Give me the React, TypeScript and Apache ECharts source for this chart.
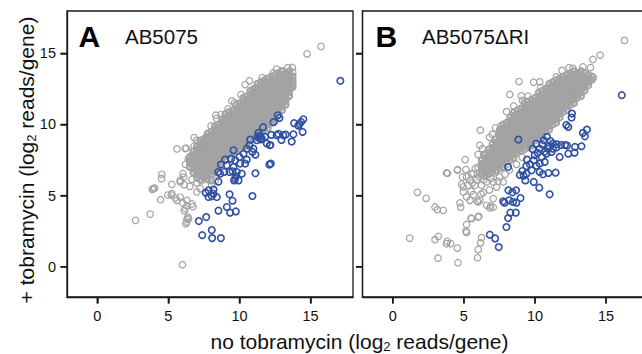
import React, { useEffect, useRef } from "react";
import * as echarts from "echarts";

// ---------- axis range, tick labels / text ----------
const AX_MIN = -2.13;
const AX_MAX = 17.98;
const xTicks = [0, 5, 10, 15];
const yTicks = [0, 5, 10, 15];
const panelLetters = ["A", "B"];
const panelNames = ["AB5075", "AB5075\u0394RI"];

// ---------- Panel A (AB5075) ----------
// dense core of the cloud: each row = [x, y1, y2, ...]
const coreA: number[][] = [
  [6.5, 7.0, 7.25, 7.5, 7.75],
  [6.75, 6.63, 6.88, 7.13, 7.38, 7.63, 7.88, 8.13],
  [7.0, 6.25, 6.5, 6.75, 7, 7.25, 7.5, 7.75, 8, 8.25, 8.5],
  [7.25, 6.13, 6.38, 6.63, 6.88, 7.13, 7.38, 7.63, 7.88, 8.13, 8.38, 8.63, 8.88],
  [7.5, 6.25, 6.5, 6.75, 7, 7.25, 7.5, 7.75, 8, 8.25, 8.5, 8.75, 9],
  [7.75, 6.13, 6.38, 6.63, 6.88, 7.13, 7.38, 7.63, 7.88, 8.13, 8.38, 8.63, 8.88, 9.13, 9.38],
  [8.0, 6.5, 6.75, 7, 7.25, 7.5, 7.75, 8, 8.25, 8.5, 8.75, 9, 9.25, 9.5],
  [8.25, 6.63, 6.88, 7.13, 7.38, 7.63, 7.88, 8.13, 8.38, 8.63, 8.88, 9.13, 9.38, 9.63, 9.88],
  [8.5, 7, 7.25, 7.5, 7.75, 8, 8.25, 8.5, 8.75, 9, 9.25, 9.5, 9.75, 10],
  [8.75, 7.38, 7.63, 7.88, 8.13, 8.38, 8.63, 8.88, 9.13, 9.38, 9.63, 9.88, 10.13, 10.38],
  [9.0, 7.5, 7.75, 8, 8.25, 8.5, 8.75, 9, 9.25, 9.5, 9.75, 10, 10.25, 10.5, 10.75],
  [9.25, 7.88, 8.13, 8.38, 8.63, 8.88, 9.13, 9.38, 9.63, 9.88, 10.13, 10.38, 10.63, 10.88],
  [9.5, 8, 8.25, 8.5, 8.75, 9, 9.25, 9.5, 9.75, 10, 10.25, 10.5, 10.75, 11],
  [9.75, 8.13, 8.38, 8.63, 8.88, 9.13, 9.38, 9.63, 9.88, 10.13, 10.38, 10.63, 10.88, 11.13, 11.38],
  [10.0, 8.25, 8.5, 8.75, 9, 9.25, 9.5, 9.75, 10, 10.25, 10.5, 10.75, 11, 11.25, 11.5],
  [10.25, 8.38, 8.63, 8.88, 9.13, 9.38, 9.63, 9.88, 10.13, 10.38, 10.63, 10.88, 11.13, 11.38, 11.63, 11.88],
  [10.5, 8.5, 8.75, 9, 9.25, 9.5, 9.75, 10, 10.25, 10.5, 10.75, 11, 11.25, 11.5, 11.75, 12],
  [10.75, 8.88, 9.13, 9.38, 9.63, 9.88, 10.13, 10.38, 10.63, 10.88, 11.13, 11.38, 11.63, 11.88, 12.13, 12.38],
  [11.0, 9, 9.25, 9.5, 9.75, 10, 10.25, 10.5, 10.75, 11, 11.25, 11.5, 11.75, 12, 12.25, 12.5],
  [11.25, 9.13, 9.38, 9.63, 9.88, 10.13, 10.38, 10.63, 10.88, 11.13, 11.38, 11.63, 11.88, 12.13, 12.38, 12.63, 12.88],
  [11.5, 9.5, 9.75, 10, 10.25, 10.5, 10.75, 11, 11.25, 11.5, 11.75, 12, 12.25, 12.5, 12.75, 13],
  [11.75, 9.63, 9.88, 10.13, 10.38, 10.63, 10.88, 11.13, 11.38, 11.63, 11.88, 12.13, 12.38, 12.63, 12.88, 13.13],
  [12.0, 9.75, 10, 10.25, 10.5, 10.75, 11, 11.25, 11.5, 11.75, 12, 12.25, 12.5, 12.75, 13, 13.25],
  [12.25, 10.13, 10.38, 10.63, 10.88, 11.13, 11.38, 11.63, 11.88, 12.13, 12.38, 12.63, 12.88, 13.13, 13.38],
  [12.5, 10.25, 10.5, 10.75, 11, 11.25, 11.5, 11.75, 12, 12.25, 12.5, 12.75, 13, 13.25, 13.5],
  [12.75, 10.63, 10.88, 11.13, 11.38, 11.63, 11.88, 12.13, 12.38, 12.63, 12.88, 13.13, 13.38, 13.63],
  [13.0, 11, 11.25, 11.5, 11.75, 12, 12.25, 12.5, 12.75, 13, 13.25, 13.5, 13.75],
  [13.25, 11.38, 11.63, 11.88, 12.13, 12.38, 12.63, 12.88, 13.13, 13.38, 13.63],
  [13.5, 12, 12.25, 12.5, 12.75, 13, 13.25, 13.5, 13.75],
  [13.75, 12.63, 12.88, 13.13, 13.38],
];

// scattered grey genes outside the core
const grayA: number[][] = [
  [15.73, 15.49], [14.75, 14.97], [13.72, 14.01], [13.74, 13.68], [13.7, 12.74],
  [2.69, 3.26], [3.72, 3.7], [5.99, 0.14], [4.54, 6.5], [4.52, 6.19], [4.03, 5.53],
  [3.86, 5.44], [3.95, 5.49], [4.45, 4.71], [4.96, 5.04], [5.2, 5.04], [5.24, 5.79],
  [5.6, 8.28], [6.18, 8.31], [6.25, 8.33], [6.81, 9.08], [7.0, 8.89], [6.02, 6.55],
  [5.83, 5.96], [6.11, 5.77], [5.48, 4.83], [5.83, 4.9], [6.02, 4.48], [6.11, 3.94],
  [6.3, 4.27], [6.65, 4.41], [6.72, 4.22], [6.3, 3.33], [6.37, 3.49], [6.23, 3.02],
  [6.51, 5.65], [6.65, 6.14], [7.0, 5.89], [7.33, 6.05], [7.59, 5.25], [8.05, 6.05],
  [8.03, 5.72], [6.81, 8.49], [7.19, 8.47], [8.33, 10.65], [8.38, 10.42], [7.68, 9.15],
  [9.46, 11.66], [9.65, 11.52], [10.7, 13.07], [10.4, 12.81], [10.98, 12.41],
  [11.1, 11.94], [12.38, 13.63], [11.94, 13.21], [12.97, 13.77], [5.25, 5.14],
  [5.83, 6.07], [6.07, 6.3], [5.6, 4.67], [6.3, 4.67], [6.18, 4.09], [6.42, 3.38],
  [6.3, 3.14], [6.53, 7.01], [7.0, 7.96], [7.35, 8.54], [7.0, 6.78], [7.94, 6.07],
  [8.29, 6.07], [7.24, 5.49], [7.0, 5.26], [6.4, 7.6], [6.2, 7.2], [8.0, 9.9],
  [8.7, 10.7], [9.2, 11.1], [10.1, 12.1], [11.6, 13.3], [12.6, 13.9], [13.4, 14.0],
];

// genes depleted in tobramycin (blue)
const blueA: number[][] = [
  [17.09, 13.07], [12.69, 10.65], [12.81, 10.46], [12.39, 10.16], [11.66, 9.81],
  [13.84, 10.09], [14.21, 10.04], [14.33, 10.18], [14.49, 10.37], [14.14, 9.92],
  [14.44, 9.48], [12.74, 9.34], [13.25, 9.29], [13.79, 9.31], [13.67, 8.8],
  [12.95, 8.91], [12.24, 9.27], [12.17, 8.56], [11.8, 9.13], [11.33, 9.41],
  [11.4, 9.03], [11.21, 8.89], [11.45, 9.2], [11.28, 9.15], [11.5, 8.95], [11.57, 9.01],
  [10.75, 8.94], [10.7, 8.54], [10.51, 8.3], [10.91, 8.07], [11.12, 7.88],
  [11.12, 6.57], [10.91, 4.97], [12.1, 7.18], [12.2, 7.25], [11.92, 8.66],
  [10.28, 7.95], [10.0, 7.72], [9.69, 7.48], [9.41, 7.6], [8.99, 7.53], [8.69, 7.18],
  [9.11, 7.13], [9.58, 7.01], [10.05, 7.25], [9.81, 6.66], [9.51, 6.71], [9.3, 6.66],
  [8.92, 6.66], [8.64, 6.54], [8.5, 6.66], [8.52, 5.98], [9.74, 6.36], [9.62, 6.07],
  [9.69, 6.19], [9.93, 6.07], [10.16, 6.54], [10.51, 7.53], [10.4, 7.25], [10.98, 8.3],
  [9.58, 8.19], [12.14, 8.54], [12.61, 9.25], [13.08, 9.25],
  [7.63, 5.2], [7.82, 5.37], [7.82, 4.9], [8.17, 5.42], [8.17, 5.13], [8.05, 4.95],
  [8.4, 4.9], [9.3, 5.09], [9.51, 4.64], [9.34, 3.8], [9.74, 3.89], [9.11, 4.2],
  [8.52, 3.94], [7.14, 3.21], [7.66, 3.49], [8.05, 2.58], [7.38, 2.22], [8.08, 2.01],
  [8.69, 2.01],
];

// ---------- Panel B (AB5075ΔRI) ----------
const coreB: number[][] = [
  [6.25, 6.5, 6.75, 7, 7.25, 7.5],
  [6.5, 6.38, 6.63, 6.88, 7.13, 7.38, 7.63, 7.88],
  [6.75, 6.5, 6.75, 7, 7.25, 7.5, 7.75, 8, 8.25],
  [7.0, 6.63, 6.88, 7.13, 7.38, 7.63, 7.88, 8.13, 8.38, 8.63],
  [7.25, 6.75, 7, 7.25, 7.5, 7.75, 8, 8.25, 8.5, 8.75, 9],
  [7.5, 6.88, 7.13, 7.38, 7.63, 7.88, 8.13, 8.38, 8.63, 8.88, 9.13, 9.38, 9.63],
  [7.75, 7, 7.25, 7.5, 7.75, 8, 8.25, 8.5, 8.75, 9, 9.25, 9.5, 9.75, 10],
  [8.0, 7.38, 7.63, 7.88, 8.13, 8.38, 8.63, 8.88, 9.13, 9.38, 9.63, 9.88, 10.13],
  [8.25, 7.5, 7.75, 8, 8.25, 8.5, 8.75, 9, 9.25, 9.5, 9.75, 10, 10.25, 10.5],
  [8.5, 7.63, 7.88, 8.13, 8.38, 8.63, 8.88, 9.13, 9.38, 9.63, 9.88, 10.13, 10.38, 10.63, 10.88],
  [8.75, 8, 8.25, 8.5, 8.75, 9, 9.25, 9.5, 9.75, 10, 10.25, 10.5, 10.75, 11],
  [9.0, 8.13, 8.38, 8.63, 8.88, 9.13, 9.38, 9.63, 9.88, 10.13, 10.38, 10.63, 10.88, 11.13],
  [9.25, 8.25, 8.5, 8.75, 9, 9.25, 9.5, 9.75, 10, 10.25, 10.5, 10.75, 11, 11.25, 11.5],
  [9.5, 8.38, 8.63, 8.88, 9.13, 9.38, 9.63, 9.88, 10.13, 10.38, 10.63, 10.88, 11.13, 11.38, 11.63],
  [9.75, 8.5, 8.75, 9, 9.25, 9.5, 9.75, 10, 10.25, 10.5, 10.75, 11, 11.25, 11.5, 11.75],
  [10.0, 8.88, 9.13, 9.38, 9.63, 9.88, 10.13, 10.38, 10.63, 10.88, 11.13, 11.38, 11.63, 11.88],
  [10.25, 9, 9.25, 9.5, 9.75, 10, 10.25, 10.5, 10.75, 11, 11.25, 11.5, 11.75, 12, 12.25],
  [10.5, 9.13, 9.38, 9.63, 9.88, 10.13, 10.38, 10.63, 10.88, 11.13, 11.38, 11.63, 11.88, 12.13, 12.38],
  [10.75, 9.5, 9.75, 10, 10.25, 10.5, 10.75, 11, 11.25, 11.5, 11.75, 12, 12.25, 12.5],
  [11.0, 9.63, 9.88, 10.13, 10.38, 10.63, 10.88, 11.13, 11.38, 11.63, 11.88, 12.13, 12.38, 12.63, 12.88],
  [11.25, 10, 10.25, 10.5, 10.75, 11, 11.25, 11.5, 11.75, 12, 12.25, 12.5, 12.75, 13],
  [11.5, 10.13, 10.38, 10.63, 10.88, 11.13, 11.38, 11.63, 11.88, 12.13, 12.38, 12.63, 12.88, 13.13],
  [11.75, 10.5, 10.75, 11, 11.25, 11.5, 11.75, 12, 12.25, 12.5, 12.75, 13, 13.25],
  [12.0, 10.88, 11.13, 11.38, 11.63, 11.88, 12.13, 12.38, 12.63, 12.88, 13.13, 13.38],
  [12.25, 11, 11.25, 11.5, 11.75, 12, 12.25, 12.5, 12.75, 13, 13.25, 13.5],
  [12.5, 11.38, 11.63, 11.88, 12.13, 12.38, 12.63, 12.88, 13.13, 13.38, 13.63],
  [12.75, 11.5, 11.75, 12, 12.25, 12.5, 12.75, 13, 13.25, 13.5, 13.75],
  [13.0, 11.88, 12.13, 12.38, 12.63, 12.88, 13.13, 13.38, 13.63],
  [13.25, 12, 12.25, 12.5, 12.75, 13, 13.25, 13.5, 13.75],
  [13.5, 12.38, 12.63, 12.88, 13.13, 13.38, 13.63],
  [13.75, 12.75, 13, 13.25, 13.5],
  [14.0, 13.13, 13.38],
];

const grayB: number[][] = [
  [16.29, 15.91], [14.58, 14.88], [14.07, 14.57], [13.37, 14.05], [12.67, 13.94],
  [11.5, 13.35], [10.8, 12.54], [10.33, 13.0], [9.9, 12.97], [8.88, 13.02],
  [8.23, 12.11], [9.04, 12.01], [9.11, 11.7], [7.22, 9.76], [6.15, 9.6], [6.12, 8.54],
  [7.29, 8.26], [6.0, 7.9], [5.09, 7.53], [4.56, 6.83], [3.78, 6.59], [3.85, 6.57],
  [1.19, 2.01], [1.73, 5.23], [2.34, 4.81], [2.97, 4.2], [3.13, 4.01], [3.55, 3.96],
  [2.97, 1.9], [3.2, 2.13], [3.83, 1.78], [4.07, 1.62], [3.78, 1.62], [4.54, 1.31],
  [3.18, 0.6], [4.58, 0.28], [5.96, 0.63], [6.01, 1.21], [6.17, 1.68], [6.24, 2.04],
  [5.19, 2.41], [5.14, 2.5], [5.19, 2.97], [5.5, 3.42], [6.05, 3.54], [4.72, 4.48],
  [4.77, 4.18], [4.54, 6.78], [5.14, 6.83], [5.19, 6.31], [4.9, 6.31], [4.84, 5.8],
  [4.96, 5.26], [5.19, 4.91], [5.66, 5.07], [6.12, 4.67], [6.59, 4.32], [6.87, 4.25],
  [7.06, 4.18], [5.94, 4.6], [5.77, 5.73], [6.24, 5.73], [6.59, 5.96], [7.06, 5.96],
  [5.42, 6.08], [5.66, 6.55], [6.12, 6.6], [7.06, 4.79], [7.76, 5.96], [5.54, 6.55],
  [5.3, 5.73], [4.95, 5.61], [5.42, 4.67], [6.0, 4.56], [6.83, 4.13], [5.54, 3.38],
  [6.0, 3.5], [6.36, 5.2], [6.8, 5.4], [7.3, 5.6], [7.5, 6.3], [6.9, 6.2], [6.4, 6.1],
  [5.9, 6.1], [5.5, 5.3], [6.2, 5.1], [7.2, 6.6], [6.0, 7.0], [6.4, 7.9], [6.8, 9.1],
  [7.6, 9.9], [5.8, 6.9], [6.1, 6.3], [7.4, 6.0], [5.6, 5.9], [7.9, 6.5], [8.2, 6.8],
  [8.7, 7.2], [9.1, 7.7], [6.3, 8.3], [7.0, 9.3], [8.0, 10.9], [8.5, 11.3],
  [9.5, 12.0], [10.4, 12.6], [11.9, 13.8], [12.4, 14.0], [13.9, 14.0], [14.1, 13.3],
];

const blueB: number[][] = [
  [16.1, 12.06], [8.83, 8.94], [8.11, 7.01], [12.6, 10.77], [12.57, 10.49],
  [12.2, 9.97], [12.34, 9.83], [13.65, 9.64], [13.37, 9.41], [13.51, 9.17],
  [13.27, 8.47], [12.81, 8.42], [12.34, 7.95], [12.78, 8.02], [11.73, 7.72],
  [11.03, 5.09], [11.45, 6.61], [10.94, 6.59], [10.33, 6.66], [10.56, 6.5],
  [10.3, 5.56], [9.91, 5.96], [9.32, 6.07], [8.93, 6.45], [9.2, 6.4],
  [8.67, 5.37], [8.13, 5.37], [8.41, 5.23], [8.98, 4.83], [7.76, 4.6], [7.86, 4.5],
  [8.18, 4.67], [8.46, 4.55], [8.69, 4.5], [8.27, 3.8], [8.65, 3.8], [8.11, 3.42],
  [7.99, 2.79], [6.82, 2.25], [7.2, 1.99], [7.45, 1.38],
  [10.09, 8.66], [10.33, 8.3], [10.61, 8.89], [10.84, 9.13], [11.08, 8.84],
  [11.26, 8.66], [11.54, 8.61], [11.83, 8.56], [12.11, 8.56], [12.25, 8.52],
  [10.19, 8.0], [10.47, 7.72], [9.91, 7.48], [9.63, 7.2], [9.39, 7.08], [9.77, 6.78],
  [10.8, 7.95], [11.17, 8.07], [11.5, 8.38], [9.98, 7.83], [10.33, 7.25],
  [10.68, 7.37], [10.91, 8.3], [11.26, 8.3], [9.82, 8.28], [9.44, 7.53], [9.11, 6.73],
  [9.39, 6.54], [10.5, 8.6], [10.7, 8.1], [11.0, 8.5], [10.1, 7.1],
];

const GRAY = "#a3a3a3";
const BLUE = "#3050a2";
const INK = "#1a1a1a";
const FONT = '"Liberation Sans", Arial, Helvetica, sans-serif';
const TICK_LEN = 6.5;

const expand = (rows: number[][]) =>
  rows.flatMap((r) => r.slice(1).map((y) => [r[0], y]));

const scatter = (idx: number, data: number[][], color: string, lw: number, size: number) => ({
  type: "scatter",
  xAxisIndex: idx,
  yAxisIndex: idx,
  data,
  symbol: "circle",
  symbolSize: size,
  silent: true,
  itemStyle: { color: "rgba(0,0,0,0)", borderColor: color, borderWidth: lw, opacity: 1 },
});

// outward tick marks drawn through the axes' scales
const tickSeries = (idx: number, dir: "x" | "y") => ({
  type: "custom",
  xAxisIndex: idx,
  yAxisIndex: idx,
  silent: true,
  clip: false,
  z: 10,
  data: dir === "x" ? xTicks.map((v) => [v, AX_MIN]) : yTicks.map((v) => [AX_MIN, v]),
  renderItem: (_params: any, api: any) => {
    const p = api.coord([api.value(0), api.value(1)]);
    const shape =
      dir === "x"
        ? { x1: p[0], y1: p[1], x2: p[0], y2: p[1] + TICK_LEN }
        : { x1: p[0], y1: p[1], x2: p[0] - TICK_LEN, y2: p[1] };
    return { type: "line", shape, style: { stroke: INK, lineWidth: 1.5 } };
  },
});

export default function App() {
  const ref = useRef<HTMLDivElement>(null);

  useEffect(() => {
    if (!ref.current) return;
    const chart = echarts.init(ref.current, null, { renderer: "svg" });

    const grids = [
      { left: 67, top: 11, width: 286, height: 286 },
      { left: 362.5, top: 11, width: 286, height: 286 },
    ].map((g) => ({
      ...g,
      show: true,
      outerBoundsMode: "none",
      borderColor: INK,
      borderWidth: 1.3,
    }));

    const xAxis = [0, 1].map((i) => ({
      type: "value",
      gridIndex: i,
      min: AX_MIN,
      max: AX_MAX,
      axisLine: { show: true, onZero: false, lineStyle: { color: INK, width: 1.3 } },
      axisTick: { show: true, length: TICK_LEN, lineStyle: { color: INK, width: 1.5 }, customValues: xTicks },
      axisLabel: { margin: 11, fontSize: 14.5, color: "#111", fontFamily: FONT, customValues: xTicks },
      splitLine: { show: false },
    }));

    const yAxis = [0, 1].map((i) => ({
      type: "value",
      gridIndex: i,
      min: AX_MIN,
      max: AX_MAX,
      axisLine: { show: true, onZero: false, lineStyle: { color: INK, width: 1.3 } },
      axisTick: { show: true, length: TICK_LEN, lineStyle: { color: INK, width: 1.5 }, customValues: yTicks },
      axisLabel: i === 0
        ? { margin: 11, fontSize: 14.5, color: "#111", fontFamily: FONT, customValues: yTicks }
        : { show: false, customValues: yTicks },
      splitLine: { show: false },
    }));

    const panelText = (i: number, left: number) => [
      {
        type: "text",
        x: left,
        y: 36.5,
        style: { text: panelLetters[i], font: `bold 30px ${FONT}`, fill: "#000", verticalAlign: "middle", align: "left" },
      },
      {
        type: "text",
        x: left + 46.5,
        y: 36.5,
        style: { text: panelNames[i], font: `20.5px ${FONT}`, fill: "#111", verticalAlign: "middle", align: "left" },
      },
    ];

    const rich = {
      a: { fontSize: 21, fontFamily: FONT, fill: "#111", color: "#111", lineHeight: 24 },
      s: { fontSize: 13, fontFamily: FONT, fill: "#111", color: "#111", lineHeight: 13, verticalAlign: "bottom" },
    };

    chart.setOption({
      animation: false,
      grid: grids,
      xAxis,
      yAxis,
      series: [
        scatter(0, expand(coreA), GRAY, 2.1, 5.6),
        scatter(0, grayA, GRAY, 1.2, 6.5),
        scatter(0, blueA, BLUE, 1.6, 6.5),
        scatter(1, expand(coreB), GRAY, 2.1, 5.6),
        scatter(1, grayB, GRAY, 1.2, 6.5),
        scatter(1, blueB, BLUE, 1.6, 6.5),
        tickSeries(0, "x"),
        tickSeries(0, "y"),
        tickSeries(1, "x"),
        tickSeries(1, "y"),
      ],
      graphic: [
        ...panelText(0, 78.5),
        ...panelText(1, 375.5),
        {
          type: "text",
          x: 359.5,
          y: 341,
          style: {
            text: "{a|no tobramycin (log}{s|2}{a| reads/gene)}",
            rich,
            align: "center",
            verticalAlign: "middle",
          },
        },
        {
          type: "text",
          x: 26,
          y: 160,
          rotation: Math.PI / 2,
          style: {
            text: "{a|+ tobramycin (log}{s|2}{a| reads/gene)}",
            rich,
            align: "center",
            verticalAlign: "middle",
          },
        },
      ],
    });

    return () => chart.dispose();
  }, []);

  return (
    <div
      ref={ref}
      style={{ position: "absolute", left: 0, top: 0, width: 642, height: 354 }}
    />
  );
}
